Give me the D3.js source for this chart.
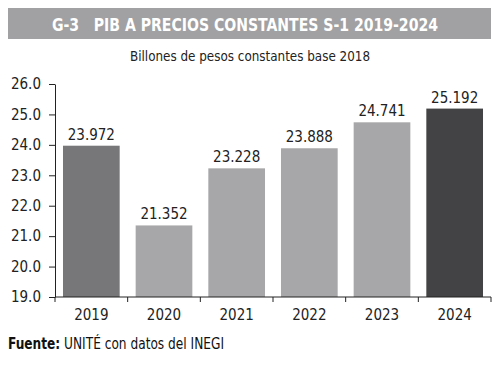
<!DOCTYPE html>
<html><head><meta charset="utf-8">
<script src="https://cdn.jsdelivr.net/npm/d3@7"></script>
<style>body{margin:0;background:#fff;} svg{display:block;} text{font-family:"DejaVu Sans Condensed","Liberation Sans Narrow",sans-serif;}</style>
</head><body>
<script>
const categories = ["2019","2020","2021","2022","2023","2024"];
const values = [23.972, 21.352, 23.228, 23.888, 24.741, 25.192];
const valueLabels = ["23.972","21.352","23.228","23.888","24.741","25.192"];
const yTicks = [19,20,21,22,23,24,25,26];
const barColors = ["#777779","#a7a7a9","#a7a7a9","#a7a7a9","#a7a7a9","#434345"];

const W=500,H=367;
const svg=d3.select("body").append("svg").attr("width",W).attr("height",H);
svg.append("rect").attr("x",8).attr("y",8).attr("width",483).attr("height",31).attr("fill","#a1a1a3");
svg.append("text").attr("x",52).attr("y",31).attr("fill","#fff").attr("xml:space","preserve")
  .attr("font-size",18).attr("font-weight","bold").attr("textLength",386).attr("lengthAdjust","spacingAndGlyphs")
  .text("G-3   PIB A PRECIOS CONSTANTES S-1 2019-2024");
svg.append("text").attr("x",130).attr("y",61).attr("fill","#222")
  .attr("font-size",14).attr("textLength",240).attr("lengthAdjust","spacingAndGlyphs").text("Billones de pesos constantes base 2018");

const x0=55,x1=491,yTop=84,yBot=297;
const x=d3.scaleBand().domain(categories).range([x0,x1]).paddingInner(0.22).paddingOuter(0.11);
const y=d3.scaleLinear().domain([19,26]).range([yBot,yTop]);

svg.selectAll("rect.bar").data(values).enter().append("rect").attr("class","bar")
  .attr("x",(d,i)=>x(categories[i])).attr("width",x.bandwidth())
  .attr("y",d=>y(d)).attr("height",d=>yBot-y(d)).attr("fill",(d,i)=>barColors[i]);

svg.selectAll("text.val").data(values).enter().append("text").attr("class","val")
  .attr("x",(d,i)=>x(categories[i])+x.bandwidth()/2).attr("y",d=>y(d)-6)
  .attr("text-anchor","middle").attr("font-size",15).attr("fill","#222").text((d,i)=>valueLabels[i]);

const yAxis=d3.axisLeft(y).tickValues(yTicks).tickFormat(d3.format(".1f")).tickSize(6).tickSizeOuter(0);
const gy=svg.append("g").attr("transform",`translate(${x0},0)`).call(yAxis);
gy.select(".domain").attr("stroke","#222");
gy.selectAll(".tick line").attr("stroke","#222");
gy.selectAll(".tick text").attr("font-size",15).attr("fill","#222").attr("font-family",null).attr("x",-14);

const step=x.step();
svg.append("line").attr("x1",x0).attr("x2",x1).attr("y1",yBot).attr("y2",yBot).attr("stroke","#222");
svg.selectAll("line.xt").data(d3.range(categories.length+1)).enter().append("line").attr("class","xt")
  .attr("x1",i=>x0+i*step).attr("x2",i=>x0+i*step).attr("y1",yBot).attr("y2",yBot+5).attr("stroke","#222");
svg.selectAll("text.xl").data(categories).enter().append("text").attr("class","xl")
  .attr("x",d=>x(d)+x.bandwidth()/2).attr("y",320).attr("text-anchor","middle").attr("font-size",15).attr("fill","#222").text(d=>d);

const src=svg.append("text").attr("x",8).attr("y",349).attr("font-size",15).attr("fill","#111")
  .attr("textLength",216).attr("lengthAdjust","spacingAndGlyphs");
src.append("tspan").attr("font-weight","bold").text("Fuente:");
src.append("tspan").text(" UNITÉ con datos del INEGI");
</script>
</body></html>
